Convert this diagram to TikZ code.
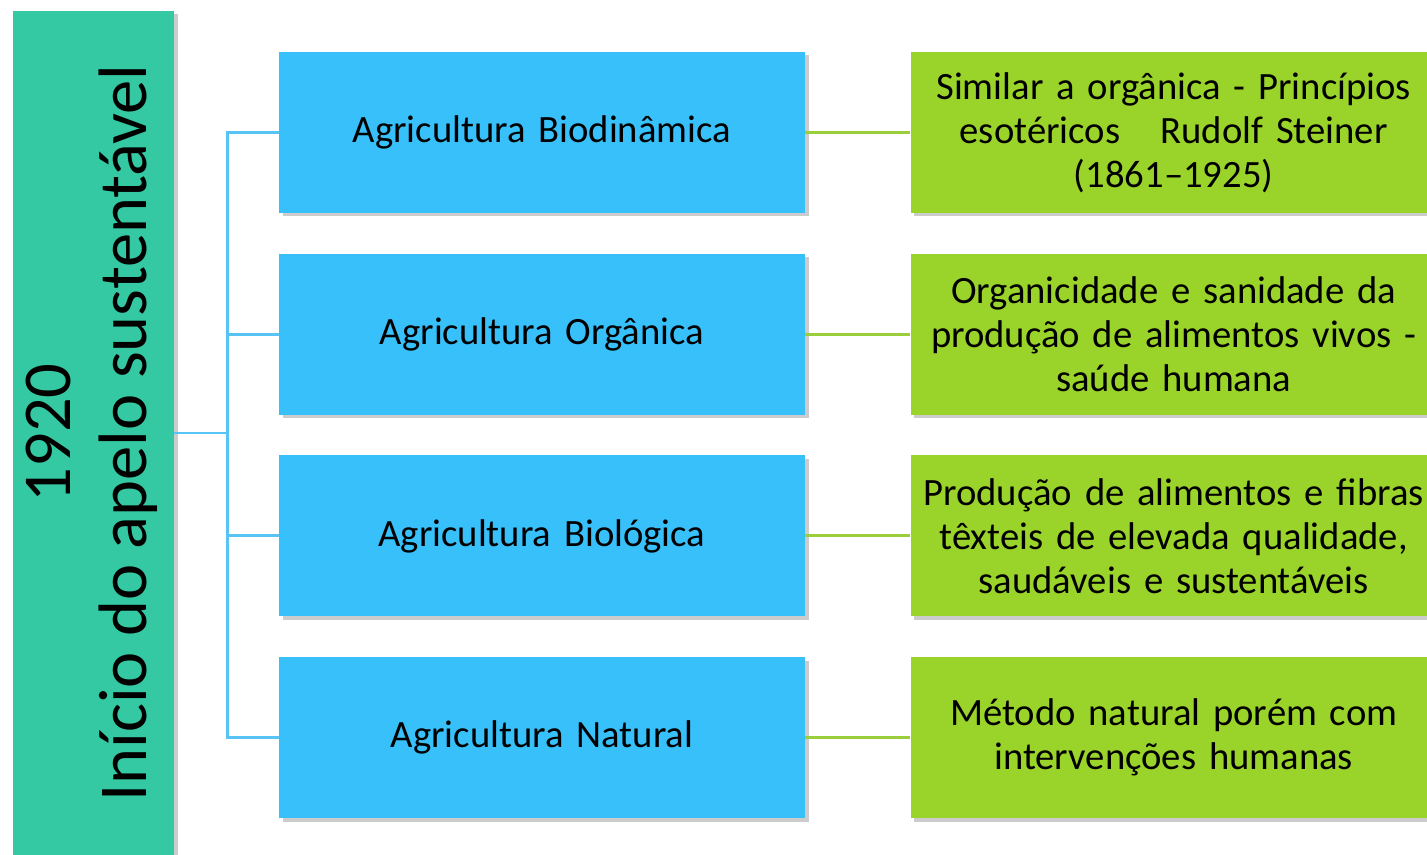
\documentclass[tikz,border=0pt]{standalone}
\usepackage{fontspec}
\setmainfont{Carlito}
\usepackage{tikz}
\usetikzlibrary{shadows}
\usetikzlibrary{positioning}
\definecolor{turquesa}{RGB}{52,200,163}
\definecolor{azul}{RGB}{56,192,250}
\definecolor{verde}{RGB}{154,211,42}
\definecolor{azulclaro}{RGB}{88,196,245}
\definecolor{verdeclaro}{RGB}{154,206,58}
\tikzset{
  sombra/.style={drop shadow={shadow xshift=.7mm,shadow yshift=-.7mm,opacity=.4}}, % sombra das caixas
  caixa/.style={sombra, minimum width=10.52cm, minimum height=3.22cm,
    text width=10.4cm, align=center, inner sep=0pt,
    font=\fontsize{22}{25}\selectfont}, % forma comum
  metodo/.style={caixa, fill=azul},   % coluna azul
  descricao/.style={caixa, fill=verde}, % coluna verde
  titulo/.style={sombra, fill=turquesa, minimum width=3.22cm, minimum height=16.88cm, inner sep=0pt},
  ligA/.style={azulclaro, line width=1.7pt}, % linhas azuis
  ligV/.style={verdeclaro, line width=1.7pt} % linhas verdes
}

\begin{document}
\begin{tikzpicture}
\useasboundingbox (0,0) rectangle (28.54,-17.1);

%Barra do título
\node[titulo] (Titulo) at (1.87,-8.66)
  {\rotatebox{90}{\fontsize{39}{43}\selectfont
   \begin{tabular}{@{}c@{}}1920\\Início do apelo sustentável\end{tabular}}};

%Métodos
\node[metodo] (M1) at (10.84,-2.65) {Agricultura Biodinâmica};
\node[metodo, below=.8cm of M1] (M2) {Agricultura Orgânica};
\node[metodo, below=.8cm of M2] (M3) {Agricultura Biológica};
\node[metodo, below=.8cm of M3] (M4) {Agricultura Natural};

%Descrições
\node[descricao, right=2.1cm of M1] (D1) {Similar a orgânica - Princípios\\esotéricos\hskip1.05em Rudolf Steiner\\(1861–1925)};
\node[descricao, right=2.1cm of M2] (D2) {Organicidade e sanidade da\\produção de alimentos vivos -\\saúde humana};
\node[descricao, right=2.1cm of M3] (D3) {Produção de alimentos e fibras\\têxteis de elevada qualidade,\\saudáveis e sustentáveis};
\node[descricao, right=2.1cm of M4] (D4) {Método natural porém com\\intervenções humanas};

%Ligações
\coordinate[right=1.06cm of Titulo.east] (Bus);
\foreach \i in {1,...,4}{
  \draw[ligA] (Titulo.east) -- (Bus) |- (M\i.west);
  \draw[ligV] (M\i.east) -- (D\i.west);
}

\end{tikzpicture}
\end{document}
